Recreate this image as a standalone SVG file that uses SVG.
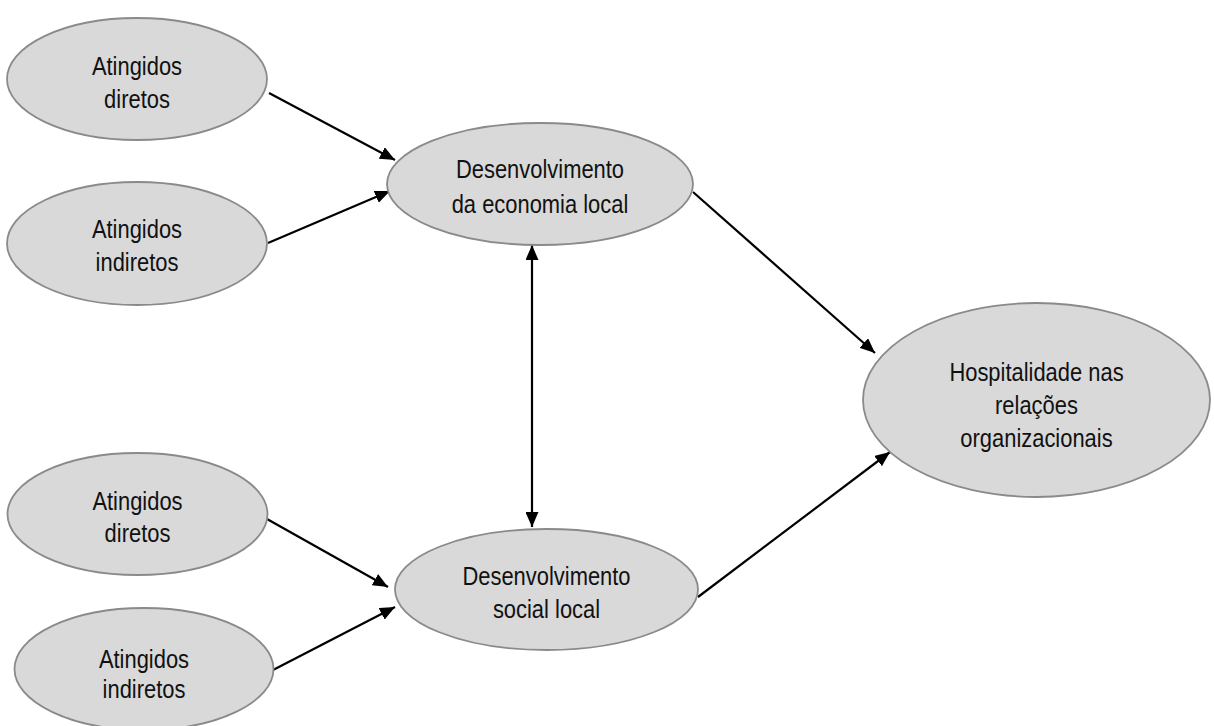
<svg xmlns="http://www.w3.org/2000/svg" width="1214" height="726" viewBox="0 0 1214 726">
  <style>
    .node { fill: #d9d9d9; stroke: #8a8a8a; stroke-width: 1.8; }
    .lbl { font-family: "Liberation Sans", Arial, sans-serif; font-size: 25.5px; fill: #111; text-anchor: middle; }
    .edge { stroke: #000; stroke-width: 2.2; fill: none; }
  </style>
  <defs>
    <marker id="arr" markerUnits="userSpaceOnUse" markerWidth="16" markerHeight="13" refX="15" refY="6.5" orient="auto-start-reverse">
      <path d="M0,0 L15,6.5 L0,13 z" fill="#000"/>
    </marker>
  </defs>
  <rect width="1214" height="726" fill="#fff"/>

  <g id="connectors">
    <line class="edge" x1="269" y1="93" x2="395" y2="160" marker-end="url(#arr)"/>
    <line class="edge" x1="268" y1="243" x2="390" y2="191" marker-end="url(#arr)"/>
    <line class="edge" x1="532" y1="245" x2="532" y2="527" marker-start="url(#arr)" marker-end="url(#arr)"/>
    <line class="edge" x1="693" y1="192" x2="875" y2="353" marker-end="url(#arr)"/>
    <line class="edge" x1="698" y1="597" x2="890" y2="452" marker-end="url(#arr)"/>
    <line class="edge" x1="267" y1="519" x2="388" y2="587" marker-end="url(#arr)"/>
    <line class="edge" x1="273" y1="670" x2="395" y2="607" marker-end="url(#arr)"/>
  </g>

  <g id="n1">
    <ellipse class="node" cx="137" cy="79" rx="130" ry="61"/>
    <text class="lbl" transform="translate(137 0) scale(0.86 1)"><tspan x="0" y="75">Atingidos</tspan><tspan x="0" y="108">diretos</tspan></text>
  </g>
  <g id="n2">
    <ellipse class="node" cx="137" cy="243.5" rx="130" ry="61.5"/>
    <text class="lbl" transform="translate(137 0) scale(0.86 1)"><tspan x="0" y="238">Atingidos</tspan><tspan x="0" y="271">indiretos</tspan></text>
  </g>
  <g id="n3">
    <ellipse class="node" cx="540" cy="184" rx="153" ry="61"/>
    <text class="lbl" transform="translate(540 0) scale(0.86 1)"><tspan x="0" y="178">Desenvolvimento</tspan><tspan x="0" y="213">da economia local</tspan></text>
  </g>
  <g id="n4">
    <ellipse class="node" cx="1036.5" cy="400" rx="173.5" ry="97"/>
    <text class="lbl" transform="translate(1036.5 0) scale(0.86 1)"><tspan x="0" y="381">Hospitalidade nas</tspan><tspan x="0" y="414">relações</tspan><tspan x="0" y="447">organizacionais</tspan></text>
  </g>
  <g id="n5">
    <ellipse class="node" cx="137.5" cy="514" rx="130" ry="61"/>
    <text class="lbl" transform="translate(137.5 0) scale(0.86 1)"><tspan x="0" y="510">Atingidos</tspan><tspan x="0" y="542">diretos</tspan></text>
  </g>
  <g id="n6">
    <ellipse class="node" cx="546.5" cy="589.5" rx="151.5" ry="60.5"/>
    <text class="lbl" transform="translate(546.5 0) scale(0.86 1)"><tspan x="0" y="585">Desenvolvimento</tspan><tspan x="0" y="618">social local</tspan></text>
  </g>
  <g id="n7">
    <ellipse class="node" cx="144" cy="669" rx="129.5" ry="61"/>
    <text class="lbl" transform="translate(144 0) scale(0.86 1)"><tspan x="0" y="668">Atingidos</tspan><tspan x="0" y="698">indiretos</tspan></text>
  </g>
</svg>
